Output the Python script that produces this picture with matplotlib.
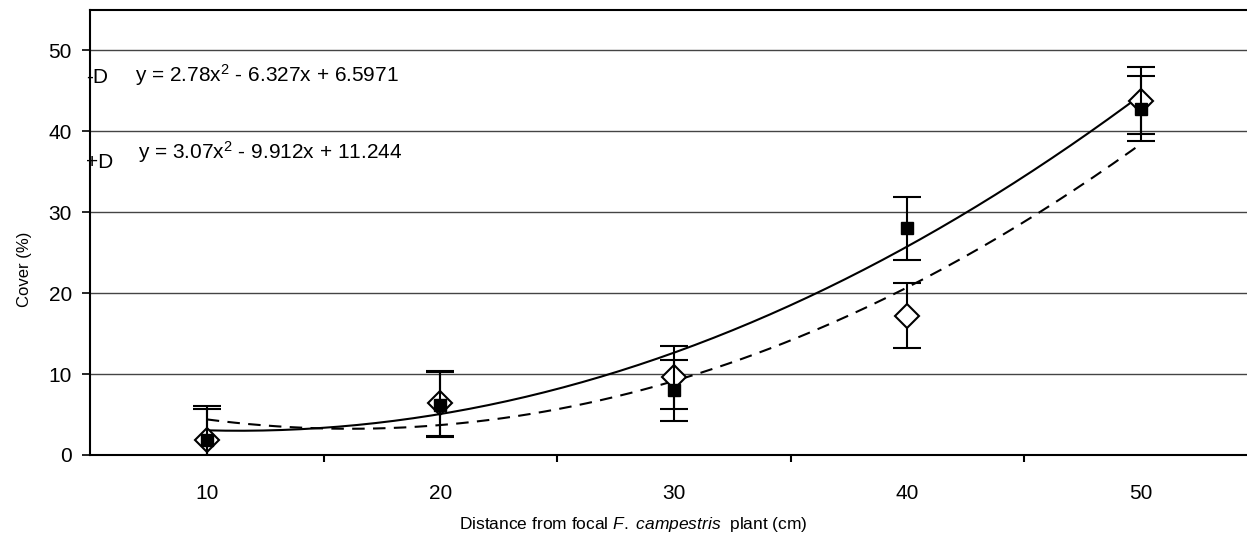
import numpy as np
import matplotlib
matplotlib.use('Agg')
import matplotlib.pyplot as plt

plt.rcParams['font.family'] = ['Liberation Sans', 'DejaVu Sans']
plt.rcParams['mathtext.fontset'] = 'custom'
plt.rcParams['mathtext.rm'] = 'Liberation Sans'
plt.rcParams['mathtext.it'] = 'Liberation Sans:italic'

# distance classes (cm)
distance = [10, 20, 30, 40, 50]

# cover (%) for the two treatments
cover_minus = [1.9, 6.2, 8.0, 28.0, 42.8]      # filled squares
err_minus = [4.1, 4.0, 3.8, 3.9, 4.0]
cover_plus = [1.9, 6.4, 9.6, 17.2, 43.8]       # open diamonds
err_plus = [3.8, 4.0, 3.9, 4.0, 4.1]

# fitted trendlines (x = class index 1..5)
coef_minus = [2.78, -6.327, 6.5971]
coef_plus = [3.07, -9.912, 11.244]
eq_minus = 'y = 2.78x$^{2}$ - 6.327x + 6.5971'
eq_plus = 'y = 3.07x$^{2}$ - 9.912x + 11.244'

fig = plt.figure(figsize=(12.47, 5.37), dpi=100)
ax = fig.add_axes([90 / 1247, 82 / 537, 1167.5 / 1247, 445 / 537])

# trendlines
xs = np.linspace(10, 50, 200)
ax.plot(xs, np.polyval(coef_minus, xs / 10), color='black', lw=1.5, zorder=3)
ax.plot(xs, np.polyval(coef_plus, xs / 10), color='black', lw=1.5, ls=(0, (6, 4)), zorder=3)

# points with error bars (diamonds under squares)
ax.errorbar(distance, cover_plus, yerr=err_plus, fmt='D', ms=12, mfc='white', mec='black',
            mew=1.5, ecolor='black', elinewidth=1.5, capsize=10, capthick=1.5, zorder=4)
ax.errorbar(distance, cover_minus, yerr=err_minus, fmt='s', ms=8, mfc='black', mec='black',
            ecolor='black', elinewidth=1.5, capsize=10, capthick=1.5, zorder=5)

ax.set_xlim(5, 55)
ax.set_ylim(0, 55)

# category style axis: ticks between classes, labels at the classes
ax.set_xticks([15, 25, 35, 45])
ax.set_xticklabels([])
ax.set_xticks(distance, minor=True)
ax.set_xticklabels([str(d) for d in distance], minor=True, fontsize=15)
ax.tick_params(axis='x', which='major', direction='out', length=5, width=1.5)
ax.tick_params(axis='x', which='minor', length=0, pad=21)
ax.set_yticks([0, 10, 20, 30, 40, 50])
ax.tick_params(axis='y', direction='out', length=6, width=1.2, pad=7, labelsize=15)

ax.yaxis.grid(True, color='#444444', lw=1.0)
ax.set_axisbelow(True)
for s in ['left', 'bottom', 'top']:
    ax.spines[s].set_linewidth(1.5)
    ax.spines[s].set_color('black')
ax.spines['right'].set_visible(False)

# equations and series labels
ax.text(6.93, 47.0, eq_minus, fontsize=15, va='center', ha='left')
ax.text(7.06, 37.45, eq_plus, fontsize=15, va='center', ha='left')
ax.text(4.83, 46.6, '-D', fontsize=15, va='center', ha='left', clip_on=False)
ax.text(4.83, 36.1, '+D', fontsize=15, va='center', ha='left', clip_on=False)

fig.text(633 / 1247, 13 / 537, r'Distance from focal $\it{F.\ campestris}$  plant (cm)',
         fontsize=12.5, ha='center', va='center')
fig.text(25 / 1247, 268 / 537, 'Cover (%)', fontsize=12, rotation=90, ha='center', va='center')

fig.savefig('out.png', dpi=100)
